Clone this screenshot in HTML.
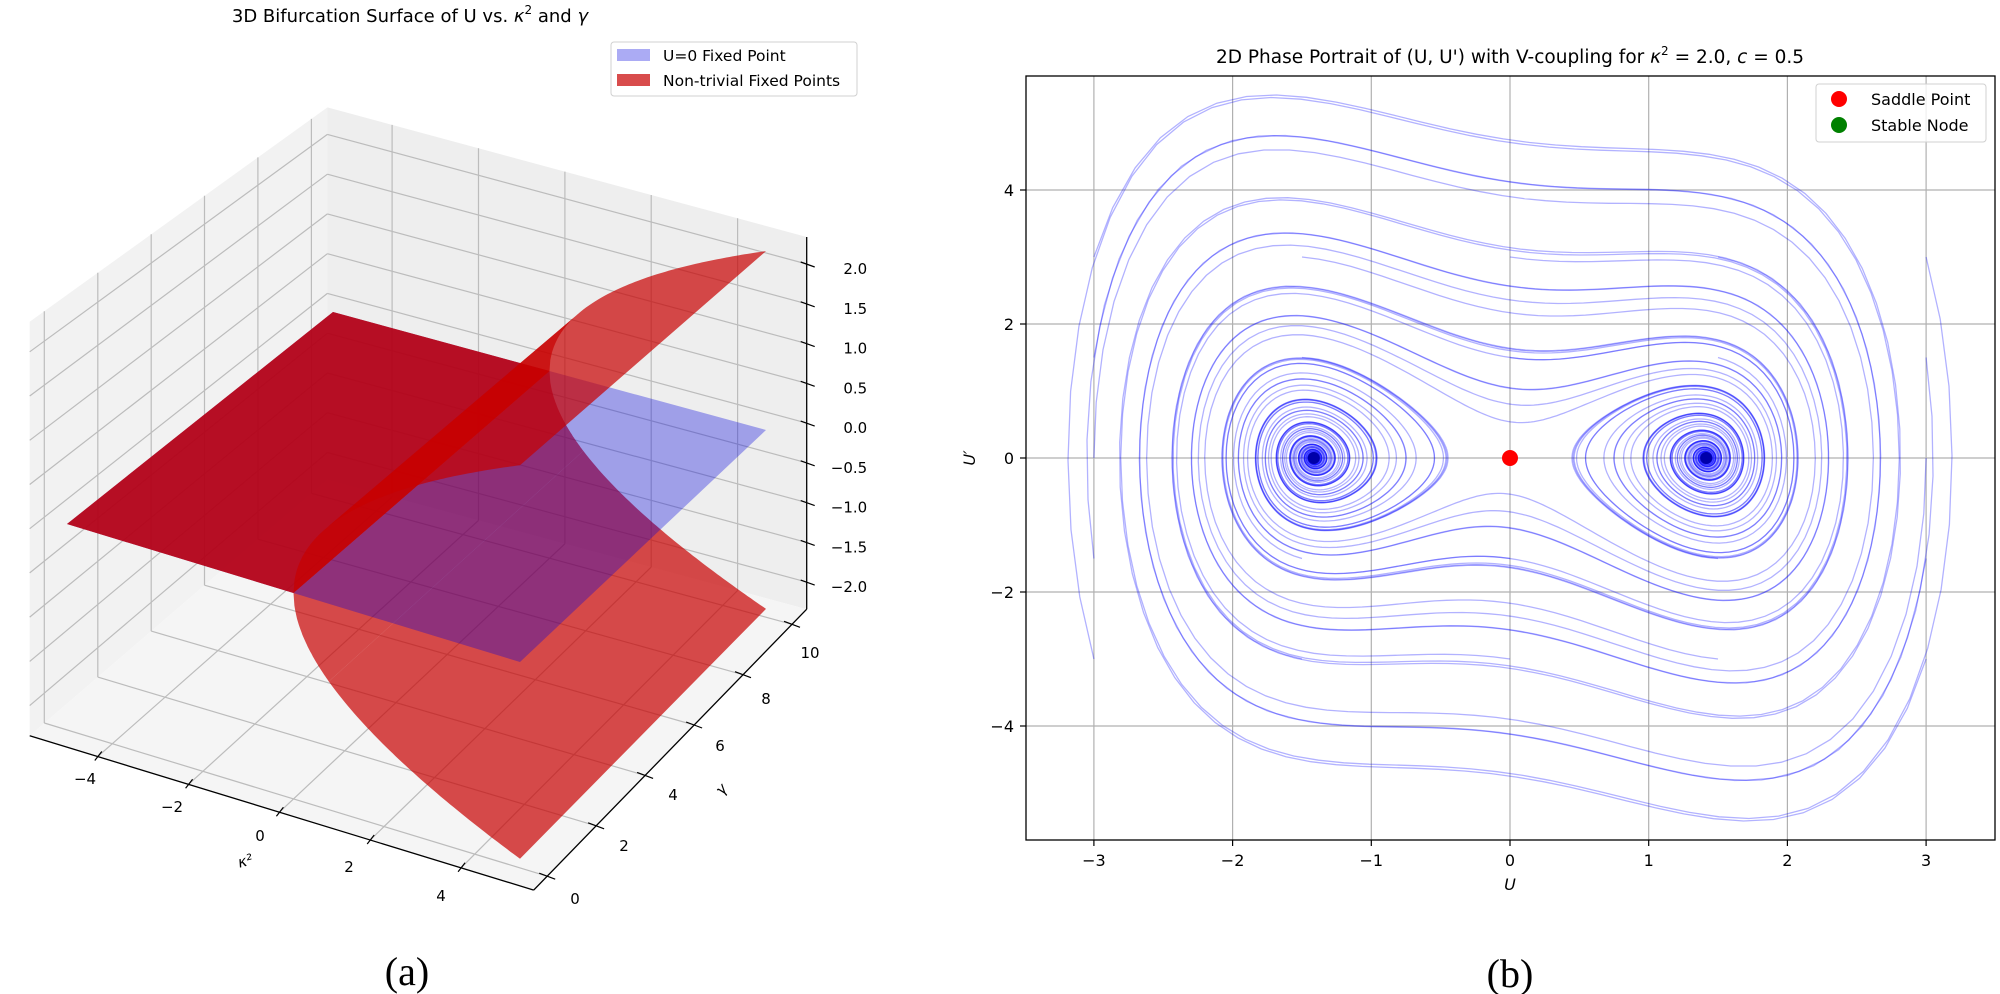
<!DOCTYPE html>
<html><head><meta charset="utf-8"><style>
html,body{margin:0;padding:0;background:#fff;}
svg{display:block;}
text{font-family:"DejaVu Sans","Liberation Sans",sans-serif;fill:#000;}
</style></head><body>
<svg id="s" width="2000" height="994" viewBox="0 0 2000 994" xmlns="http://www.w3.org/2000/svg">
<defs><clipPath id="cp"><rect x="1026" y="76" width="969" height="764"/></clipPath>
<clipPath id="cl"><rect x="0" y="0" width="1000" height="994"/></clipPath></defs>
<g id="left" clip-path="url(#cl)"></g>
<g id="right"></g>
<text x="410" y="22" font-size="18" text-anchor="middle">3D Bifurcation Surface of U vs. <tspan font-style="italic">κ</tspan><tspan font-size="12" dy="-8">2</tspan><tspan dy="8"> and </tspan><tspan font-style="italic">γ</tspan></text>
<rect x="611" y="42" width="246" height="54" rx="3" fill="#fff" fill-opacity="0.8" stroke="#d0d0d0"/>
<rect x="617" y="49" width="33" height="12" fill="#0000dd" fill-opacity="0.33"/>
<rect x="617" y="74" width="33" height="12" fill="#c80000" fill-opacity="0.7"/>
<text x="663" y="61" font-size="15.5">U=0 Fixed Point</text>
<text x="663" y="86" font-size="15.5">Non-trivial Fixed Points</text>
<text x="407" y="985" font-size="40" text-anchor="middle" style="font-family:'Liberation Serif',serif">(a)</text>
<text x="1510" y="987" font-size="40" text-anchor="middle" style="font-family:'Liberation Serif',serif">(b)</text>
<text x="1510" y="63" font-size="18.5" text-anchor="middle">2D Phase Portrait of (U, U') with V-coupling for <tspan font-style="italic">κ</tspan><tspan font-size="12" dy="-8">2</tspan><tspan dy="8"> = 2.0, </tspan><tspan font-style="italic">c</tspan> = 0.5</text>
</svg>
<script>
var NS="http://www.w3.org/2000/svg";
function el(p,t,a,txt){var e=document.createElementNS(NS,t);for(var k in a)e.setAttribute(k,a[k]);if(txt!=null)e.textContent=txt;p.appendChild(e);return e;}
var L=document.getElementById('left'),R=document.getElementById('right');
var P00=[67,524],P10=[520,662],P01=[333,312],P11=[766,430];
function pr(k,g,z){var u=(k+5)/10,v=g/10;
var x=P00[0]+u*(P10[0]-P00[0])+v*(P01[0]-P00[0])+u*v*(P11[0]-P10[0]-P01[0]+P00[0]);
var y=P00[1]+u*(P10[1]-P00[1])+v*(P01[1]-P00[1])+u*v*(P11[1]-P10[1]-P01[1]+P00[1]);
var zs=88-0.8*g;return [x,y-z*zs];}
var kmin=-5.5,kmax=5.6,gmin=-0.55,gmax=10.6,zmin=-2.34,zmax=2.34;
function pts(a){return a.map(function(p){return p[0].toFixed(1)+','+p[1].toFixed(1)}).join(' ');}
el(L,'polygon',{points:pts([pr(kmin,gmin,zmin),pr(kmin,gmax,zmin),pr(kmin,gmax,zmax),pr(kmin,gmin,zmax)]),fill:'#f2f2f2'});
el(L,'polygon',{points:pts([pr(kmin,gmax,zmin),pr(kmax,gmax,zmin),pr(kmax,gmax,zmax),pr(kmin,gmax,zmax)]),fill:'#eeeeee'});
el(L,'polygon',{points:pts([pr(kmin,gmin,zmin),pr(kmax,gmin,zmin),pr(kmax,gmax,zmin),pr(kmin,gmax,zmin)]),fill:'#f5f5f5'});
function ln(p,a,b,c,w){el(p,'line',{x1:a[0].toFixed(1),y1:a[1].toFixed(1),x2:b[0].toFixed(1),y2:b[1].toFixed(1),stroke:c,'stroke-width':w});}
var gc='#bcbcbc';
[-4,-2,0,2,4].forEach(function(k){ln(L,pr(k,gmin,zmin),pr(k,gmax,zmin),gc,1.2);ln(L,pr(k,gmax,zmin),pr(k,gmax,zmax),gc,1.2);});
[0,2,4,6,8,10].forEach(function(g){ln(L,pr(kmin,g,zmin),pr(kmax,g,zmin),gc,1.2);ln(L,pr(kmin,g,zmin),pr(kmin,g,zmax),gc,1.2);});
for(var z=-2;z<=2.001;z+=0.5){ln(L,pr(kmin,gmin,z),pr(kmin,gmax,z),gc,1.2);ln(L,pr(kmin,gmax,z),pr(kmax,gmax,z),gc,1.2);}
ln(L,pr(kmin,gmin,zmin),pr(kmax,gmin,zmin),'#000',1.3);
ln(L,pr(kmax,gmin,zmin),pr(kmax,gmax,zmin),'#000',1.3);
ln(L,pr(kmax,gmax,zmin),pr(kmax,gmax,zmax),'#000',1.3);
[-4,-2,0,2,4].forEach(function(k){var a=pr(k,gmin,zmin);ln(L,[a[0]-3,a[1]+4],[a[0]+4,a[1]-5],'#000',1.2);});
[0,2,4,6,8,10].forEach(function(g){var a=pr(kmax,g,zmin);ln(L,[a[0]-8,a[1]-3],[a[0]+8,a[1]+3],'#000',1.2);});
for(var z=-2;z<=2.001;z+=0.5){var a=pr(kmax,gmax,z);ln(L,[a[0]-6,a[1]-2],[a[0]+8,a[1]+3],'#000',1.2);}
function surf(f,k0,k1,n,fill,op){
 var top=[],bot=[];for(var i=0;i<=n;i++){var k=k0+(k1-k0)*i/n;bot.push(pr(k,0,f(k)));top.push(pr(k,10,f(k)));}
 el(L,'polygon',{points:pts(bot.concat(top.reverse())),fill:fill,'fill-opacity':op});}
function sq(k){return Math.sqrt(Math.max(k,0));}
var RED='#c80000',RO=0.7;
surf(function(k){return 0},-5,0,1,RED,RO);
surf(function(k){return -sq(k)},0,0.78,40,RED,RO);
surf(function(k){return -sq(k)},0.78,5,60,RED,RO);
surf(function(k){return 0},-5,5,1,'#0000dd',0.33);
surf(function(k){return 0},-5,0,1,RED,RO);
surf(function(k){return sq(k)},0,0.78,40,RED,RO);
surf(function(k){return sq(k)},0.78,5,60,RED,RO);
function tx(p,x,y,s,fs,anc){el(p,'text',{x:x,y:y,'font-size':fs||15,'text-anchor':anc||'middle'},s);}
[[85,784,'−4'],[172,812,'−2'],[260,841,'0'],[349,872,'2'],[441,901,'4']].forEach(function(t){tx(L,t[0],t[1],t[2]);});
[[575,904,'0'],[624,851,'2'],[673,800,'4'],[720,751,'6'],[766,704,'8'],[810,658,'10']].forEach(function(t){tx(L,t[0],t[1],t[2]);});
var zl=['−2.0','−1.5','−1.0','−0.5','0.0','0.5','1.0','1.5','2.0'];
for(var i=0;i<9;i++){var a=pr(kmax,gmax,-2+0.5*i);tx(L,867+(a[0]-806)*0.3,a[1]+10,zl[i],15,'end');}
el(L,'text',{x:245,y:866,'font-size':15,'text-anchor':'middle','font-style':'italic',transform:'rotate(-15 245 860)'},'κ²');
el(L,'text',{x:722,y:794,'font-size':15,'text-anchor':'middle','font-style':'italic',transform:'rotate(-50 722 790)'},'γ');
function X(u){return 1510+138.7*u;}function Y(w){return 458-67.0*w;}
for(var i=-3;i<=3;i++){ln(R,[X(i),76],[X(i),840],'#b0b0b0',1.2);ln(R,[X(i),840],[X(i),846],'#000',1.2);tx(R,X(i),866,(i<0?'−':'')+Math.abs(i),16);}
for(var j=-4;j<=4;j+=2){ln(R,[1026,Y(j)],[1995,Y(j)],'#b0b0b0',1.2);ln(R,[1020,Y(j)],[1026,Y(j)],'#000',1.2);tx(R,1014,Y(j)+6,(j<0?'−':'')+Math.abs(j),16,'end');}
el(R,'text',{x:1510,y:890,'font-size':16,'text-anchor':'middle','font-style':'italic'},'U');
el(R,'text',{x:975,y:458,'font-size':16,'text-anchor':'middle','font-style':'italic',transform:'rotate(-90 975 458)'},'U′');
var tg=el(R,'g',{'clip-path':'url(#cp)'});
function f(U,W){return [W,2*U-U*U*U-0.3*W];}
var S=[-3,-1.5,0,1.5,3];
S.forEach(function(u0){S.forEach(function(w0){if(u0==0&&w0==0)return;
 var U=u0,W=w0,dt=0.01,d='M'+X(U).toFixed(1)+' '+Y(W).toFixed(1);
 for(var n=1;n<=4000;n++){var k1=f(U,W),k2=f(U+dt/2*k1[0],W+dt/2*k1[1]),k3=f(U+dt/2*k2[0],W+dt/2*k2[1]),k4=f(U+dt*k3[0],W+dt*k3[1]);
  U+=dt/6*(k1[0]+2*k2[0]+2*k3[0]+k4[0]);W+=dt/6*(k1[1]+2*k2[1]+2*k3[1]+k4[1]);
  if(n%4==0)d+='L'+X(U).toFixed(1)+' '+Y(W).toFixed(1);}
 el(tg,'path',{d:d,fill:'none',stroke:'#0000ff','stroke-opacity':0.3,'stroke-width':1.3});});});
el(R,'rect',{x:1026,y:76,width:969,height:764,fill:'none',stroke:'#000','stroke-width':1.3});
el(R,'circle',{cx:X(0),cy:Y(0),r:8,fill:'#ff0000'});
el(R,'circle',{cx:X(-1.4142),cy:Y(0),r:6,fill:'#0000aa'});
el(R,'circle',{cx:X(1.4142),cy:Y(0),r:6,fill:'#0000aa'});
el(R,'rect',{x:1816,y:84,width:170,height:58,rx:3,fill:'#fff','fill-opacity':0.8,stroke:'#d0d0d0'});
el(R,'circle',{cx:1839,cy:99,r:8,fill:'#ff0000'});
el(R,'circle',{cx:1839,cy:125,r:8,fill:'#008000'});
tx(R,1871,105,'Saddle Point',16,'start');tx(R,1871,131,'Stable Node',16,'start');
</script>
</body></html>
